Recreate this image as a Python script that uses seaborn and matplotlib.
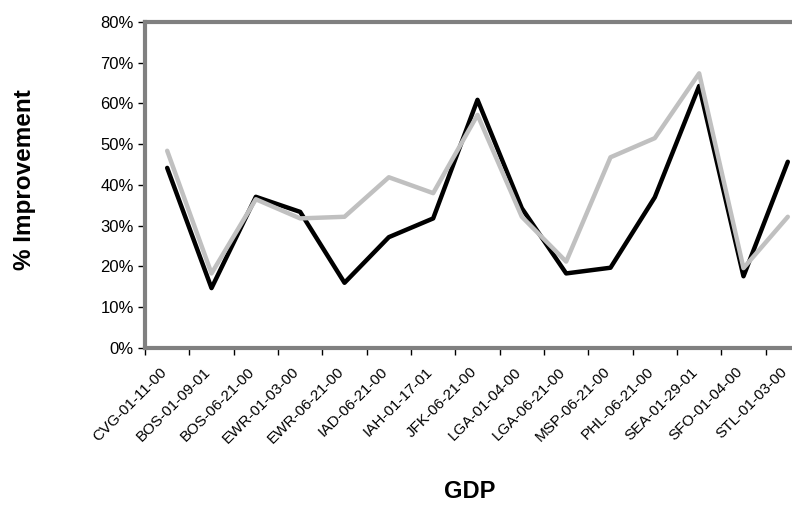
import seaborn as sns
import pandas as pd
import matplotlib.pyplot as plt
from matplotlib.ticker import PercentFormatter, FixedLocator
from matplotlib.transforms import ScaledTranslation

# GDP programs on the x axis
gdps = ['CVG-01-11-00', 'BOS-01-09-01', 'BOS-06-21-00', 'EWR-01-03-00',
        'EWR-06-21-00', 'IAD-06-21-00', 'IAH-01-17-01', 'JFK-06-21-00',
        'LGA-01-04-00', 'LGA-06-21-00', 'MSP-06-21-00', 'PHL-06-21-00',
        'SEA-01-29-01', 'SFO-01-04-00', 'STL-01-03-00']

# % improvement, two series
black_series = [44.2, 14.7, 37.1, 33.4, 16.0, 27.2, 31.8, 60.9,
                34.3, 18.3, 19.7, 37.0, 64.3, 17.6, 45.7]
grey_series = [48.4, 18.3, 36.5, 31.8, 32.2, 41.9, 38.0, 57.2,
               32.2, 21.2, 46.8, 51.5, 67.4, 19.6, 32.2]

y_ticks = [0, 10, 20, 30, 40, 50, 60, 70, 80]


def main():
    sns.set_style('white')
    plt.rcParams['font.family'] = ['Liberation Sans', 'DejaVu Sans']
    plt.rcParams['text.color'] = 'black'
    plt.rcParams['xtick.color'] = 'black'
    plt.rcParams['ytick.color'] = 'black'
    plt.rcParams['axes.labelcolor'] = 'black'

    df = pd.DataFrame({'pos': range(len(gdps)),
                       'black': black_series,
                       'grey': grey_series})

    fig = plt.figure(figsize=(7.92, 5.09), dpi=100)
    ax = fig.add_axes([0.1831, 0.3163, 0.8396, 0.6405])

    sns.lineplot(data=df, x='pos', y='black', color='black',
                 linewidth=3.2, ax=ax)
    sns.lineplot(data=df, x='pos', y='grey', color='#c0c0c0',
                 linewidth=3.2, ax=ax)

    ax.set_xlim(-0.5, len(gdps) - 0.5)
    ax.set_ylim(0, 80)
    ax.set_yticks(y_ticks)
    ax.yaxis.set_major_formatter(PercentFormatter(100, decimals=0))
    ax.tick_params(axis='y', labelsize=12, length=5, width=1,
                   left=True, direction='out', pad=3)

    # labels at category centres, tick marks between categories
    ax.set_xticks(range(len(gdps)))
    ax.set_xticklabels(gdps, rotation=45, ha='right',
                       rotation_mode='anchor', fontsize=11)
    ax.tick_params(axis='x', which='major', length=0, pad=12)
    shift = ScaledTranslation(-0.08, 0, fig.dpi_scale_trans)
    for lab in ax.get_xticklabels():
        lab.set_transform(lab.get_transform() + shift)
    ax.xaxis.set_minor_locator(FixedLocator(
        [i - 0.5 for i in range(len(gdps))]))
    ax.tick_params(axis='x', which='minor', length=5, width=1,
                   bottom=True, direction='out')

    for side in ['left', 'bottom', 'top']:
        ax.spines[side].set_color('#808080')
        ax.spines[side].set_linewidth(3)
    ax.spines['right'].set_visible(False)

    ax.set_ylabel('% Improvement', fontsize=17.5, fontweight='bold')
    ax.yaxis.set_label_coords(-0.164, 0.515)
    ax.set_xlabel('GDP', fontsize=17, fontweight='bold')
    ax.xaxis.set_label_coords(0.489, -0.405)

    fig.savefig('out.png', dpi=100)


if __name__ == '__main__':
    main()
